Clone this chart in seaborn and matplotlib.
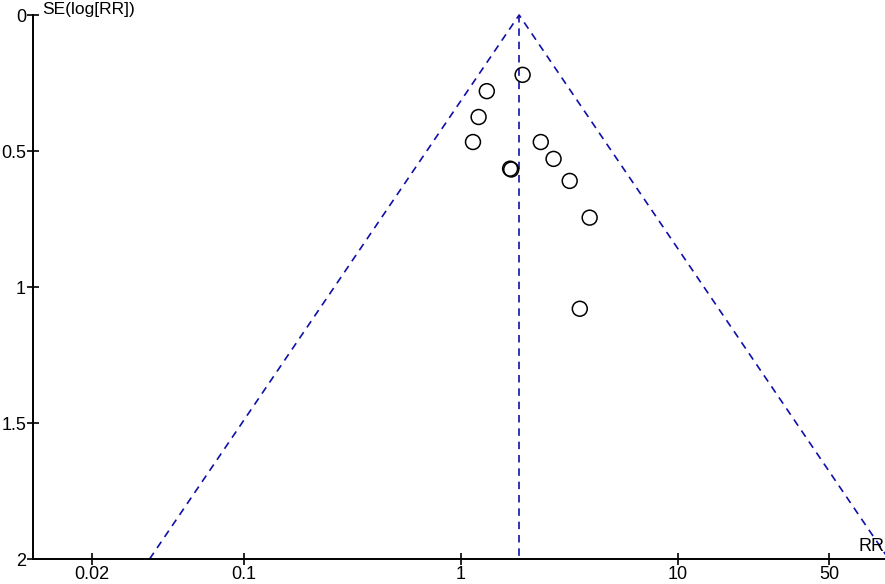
import numpy as np
import pandas as pd
import matplotlib
matplotlib.use("Agg")
import matplotlib.pyplot as plt
import seaborn as sns

# Dados (funnel plot)
rr = [1.93, 1.32, 1.21, 1.14, 1.69, 1.71, 2.34, 2.68, 3.18, 3.93, 3.54]
se = [0.22, 0.28, 0.375, 0.467, 0.565, 0.568, 0.467, 0.529, 0.610, 0.745, 1.08]
rr_pooled = 1.86
se_max = 2.0
x_ticks = [0.02, 0.1, 1, 10, 50]
x_ticklabels = ['0.02', '0.1', '1', '10', '50']
y_ticks = [0, 0.5, 1, 1.5, 2]
y_ticklabels = ['0', '0.5', '1', '1.5', '2']

df = pd.DataFrame({'RR': rr, 'SE': se})

sns.set_style("ticks")
plt.rcParams['font.family'] = ['Liberation Sans', 'DejaVu Sans']

fig = plt.figure(figsize=(8.85, 5.84), dpi=100)
ax = fig.add_axes([33 / 885, 25 / 584, 1 - 33 / 885, 544 / 584])

# Linhas do funil (IC 95%)
line_color = '#1010a8'
lo = np.exp(np.log(rr_pooled) - 1.96 * se_max)
hi = np.exp(np.log(rr_pooled) + 1.96 * se_max)
ax.plot([lo, rr_pooled, hi], [se_max, 0, se_max], color=line_color,
        linestyle=(0, (4.5, 3.5)), linewidth=1.2, clip_on=False, zorder=1)
ax.plot([rr_pooled, rr_pooled], [0, se_max], color=line_color,
        linestyle=(0, (4.5, 3.5)), linewidth=1.2, zorder=1)

sns.scatterplot(data=df, x='RR', y='SE', ax=ax, marker='o', s=115,
                facecolor='none', edgecolor='black', linewidth=1.1, zorder=3)

ax.set_xscale('log')
ax.set_xlim(10 ** -1.97, 10 ** 1.955)
ax.set_ylim(2, 0)
ax.set_xticks(x_ticks)
ax.set_xticklabels(x_ticklabels)
ax.minorticks_off()
ax.set_yticks(y_ticks)
ax.set_yticklabels(y_ticklabels)
ax.tick_params(axis='both', direction='inout', length=8, width=1.2,
               labelsize=13, color='black', labelcolor='black', pad=1)
ax.set_xlabel('')
ax.set_ylabel('')

for side in ['top', 'right']:
    ax.spines[side].set_visible(False)
for side in ['left', 'bottom']:
    ax.spines[side].set_linewidth(1.4)
    ax.spines[side].set_color('black')

fig.text(42 / 885, 1 - 9.5 / 584, 'SE(log[RR])', fontsize=12.5,
         ha='left', va='center', color='black')
ax.text(1.0, 0.008, 'RR', transform=ax.transAxes, fontsize=13,
        ha='right', va='bottom', color='black')

plt.savefig('out.png', dpi=100)
